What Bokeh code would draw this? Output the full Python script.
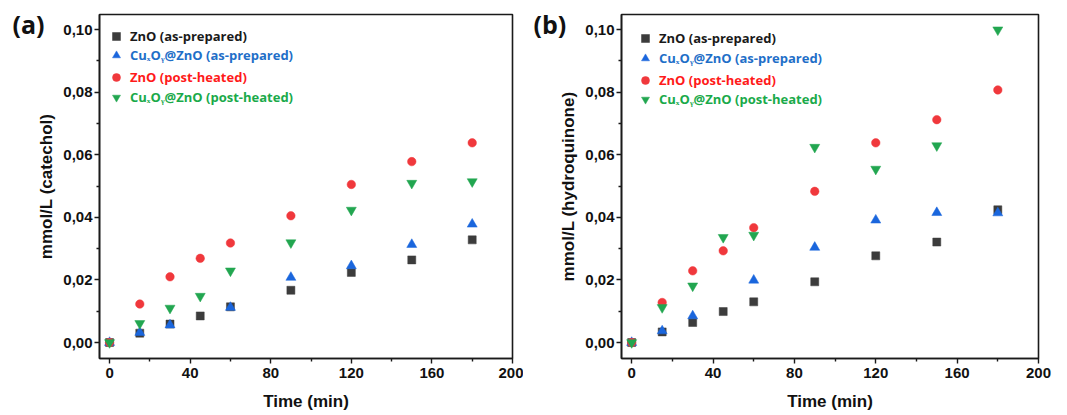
from bokeh.plotting import figure
from bokeh.layouts import row
from bokeh.models import (FixedTicker, Range1d, Legend, LegendItem, Label, ColumnDataSource)
from bokeh.embed import file_html
from bokeh.resources import INLINE

# ---------------- data ----------------
time_zno = [0, 15, 30, 45, 60, 90, 120, 150, 180]
time_cu = [0, 15, 30, 60, 90, 120, 150, 180]

# (a) catechol
cat_zno_asprep = [0.0, 0.0030, 0.0059, 0.0085, 0.0114, 0.0167, 0.0224, 0.0264, 0.0328]
cat_cu_asprep = [0.0, 0.0032, 0.0056, 0.0112, 0.0208, 0.0245, 0.0313, 0.0378]
cat_zno_post = [0.0, 0.0123, 0.0210, 0.0269, 0.0318, 0.0405, 0.0505, 0.0578, 0.0638]
cat_cu_post = [0.0, 0.0061, 0.0110, 0.0148, 0.0229, 0.0319, 0.0423, 0.0509, 0.0514]

# (b) hydroquinone
hq_zno_asprep = [0.0, 0.0034, 0.0064, 0.0099, 0.0130, 0.0194, 0.0277, 0.0321, 0.0424]
hq_cu_asprep = [0.0, 0.0037, 0.0085, 0.0199, 0.0304, 0.0391, 0.0415, 0.0414]
hq_zno_post = [0.0, 0.0128, 0.0229, 0.0293, 0.0367, 0.0483, 0.0638, 0.0712, 0.0807]
hq_cu_post = [0.0, 0.0112, 0.0181, 0.0336, 0.0343, 0.0624, 0.0554, 0.0629, 0.0999]

series_names = ["ZnO (as-prepared)", "CuₓOᵧ@ZnO (as-prepared)",
                "ZnO (post-heated)", "CuₓOᵧ@ZnO (post-heated)"]
series_colors = ["#3c3c3c", "#1a66dd", "#f0383c", "#22a650"]
label_colors = ["#1a1a1a", "#1f6fc8", "#ff1a1a", "#1aaa4a"]
series_markers = ["square", "triangle", "circle", "inverted_triangle"]
series_sizes = [8, 10, 8.5, 10]

x_ticks = [0, 40, 80, 120, 160, 200]
x_minor = [20, 60, 100, 140, 180]
y_ticks = [0.0, 0.02, 0.04, 0.06, 0.08, 0.10]
y_tick_labels = ["0,00", "0,02", "0,04", "0,06", "0,08", "0,10"]
y_minor = [0.01, 0.03, 0.05, 0.07, 0.09]

TICK_FONT = "Liberation Sans"
LEG_FONT = "Open Sans"


def make_panel(tag, ylabel, xs_list, ys_list, frame_w, border_left, border_right,
               tag_x, leg_x, leg_ys):
    p = figure(frame_width=frame_w, frame_height=344,
               min_border_left=border_left, min_border_right=border_right,
               min_border_top=14, min_border_bottom=57,
               x_range=Range1d(-5, 200), y_range=Range1d(-0.0051, 0.1048),
               output_backend="svg", toolbar_location=None,
               background_fill_color="white", border_fill_color="white")
    p.grid.visible = False
    p.outline_line_color = "#1a1a1a"
    p.outline_line_width = 1.6
    p.outline_line_alpha = 1.0

    for ax in (p.xaxis[0], p.yaxis[0]):
        ax.axis_line_color = "#1a1a1a"
        ax.axis_line_width = 1.6
        ax.major_tick_line_color = "#1a1a1a"
        ax.minor_tick_line_color = "#1a1a1a"
        ax.major_tick_line_width = 1.4
        ax.minor_tick_line_width = 1.4
        ax.major_tick_out = 5
        ax.major_tick_in = 0
        ax.minor_tick_out = 3
        ax.minor_tick_in = 0
        ax.major_label_text_font = TICK_FONT
        ax.major_label_text_font_style = "bold"
        ax.major_label_text_font_size = "15px"
        ax.major_label_text_color = "#111111"
        ax.axis_label_text_font = TICK_FONT
        ax.axis_label_text_font_style = "bold"
        ax.axis_label_text_font_size = "17px"
        ax.axis_label_text_color = "#111111"

    p.xaxis.ticker = FixedTicker(ticks=x_ticks, minor_ticks=x_minor)
    p.yaxis.ticker = FixedTicker(ticks=y_ticks, minor_ticks=y_minor)
    p.yaxis.major_label_overrides = {t: s for t, s in zip(y_ticks, y_tick_labels)}
    p.xaxis.axis_label = "Time (min)"
    p.yaxis.axis_label = ylabel
    p.xaxis.major_label_standoff = 4
    p.xaxis.axis_label_standoff = 11
    p.yaxis.major_label_standoff = 2
    p.yaxis.axis_label_standoff = 4

    renderers = []
    for xs, ys, c, m, s in zip(xs_list, ys_list, series_colors, series_markers, series_sizes):
        src = ColumnDataSource(dict(x=xs, y=ys))
        r = p.scatter("x", "y", source=src, marker=m, size=s,
                      fill_color=c, line_color=c, line_width=0.5)
        renderers.append(r)

    for r, name, lc, ly in zip(renderers, series_names, label_colors, leg_ys):
        leg = Legend(items=[LegendItem(label=name, renderers=[r])],
                     location=(leg_x, ly), padding=0, margin=0, spacing=0,
                     glyph_width=20, glyph_height=20, label_height=20,
                     label_standoff=4,
                     label_text_font=LEG_FONT, label_text_font_style="bold",
                     label_text_font_size="13px", label_text_color=lc,
                     border_line_color=None, background_fill_alpha=0)
        p.add_layout(leg)

    p.add_layout(Label(x=tag_x, y=335, x_units="screen", y_units="screen",
                       text=tag, text_font=LEG_FONT, text_font_style="bold",
                       text_font_size="25px", text_color="#111111",
                       text_baseline="middle", text_align="left"), "left")
    return p


pa = make_panel("(a)", "mmol/L (catechol)",
                [time_zno, time_cu, time_zno, time_zno],
                [cat_zno_asprep, cat_cu_asprep, cat_zno_post, cat_cu_post],
                413, 99, 11, 10, 7, [312, 293, 271, 251])
pb = make_panel("(b)", "mmol/L (hydroquinone)",
                [time_zno, time_cu, time_zno, time_zno],
                [hq_zno_asprep, hq_cu_asprep, hq_zno_post, hq_cu_post],
                417, 0, 28, 10, 14, [310, 290, 268, 249])

layout = row(pa, pb, spacing=0)
open("out.html", "w").write(file_html(layout, INLINE))
